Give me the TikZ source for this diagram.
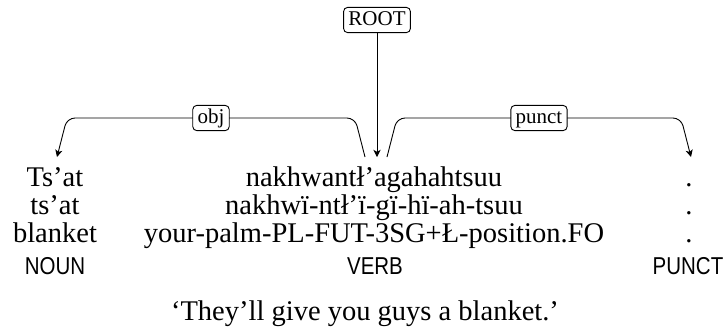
\documentclass[tikz,border=0pt]{standalone}
\usepackage{fontspec}
\setmainfont{Liberation Serif}
\setsansfont[FakeStretch=0.84]{Liberation Sans}
\usetikzlibrary{arrows.meta}

\tikzset{
  word/.style={font=\fontsize{14.25}{16}\selectfont, anchor=base, inner sep=0pt},
  postag/.style={font=\sffamily\fontsize{12.2}{14}\selectfont, anchor=base, inner sep=0pt},
  deplabel/.style={draw, fill=white, line width=0.45pt, rounded corners=2pt,
    font=\fontsize{10.5}{12}\selectfont, inner xsep=2.4pt, inner ysep=1.5pt,
    text height=7.3pt, text depth=2.3pt},
  deparc/.style={line width=0.45pt, rounded corners=4pt,
    -{Stealth[length=3.6pt,width=3.6pt,inset=1pt]}},
}

\begin{document}
\begin{tikzpicture}[x=0.5pt,y=-0.5pt]
\useasboundingbox (0,0) rectangle (724,334);

% word columns: form, segmentation, gloss, part of speech
\node[word]   (w1a) at (55,186)  {Ts’at};
\node[word]   (w1b) at (55,214)  {ts’at};
\node[word]   (w1c) at (55,242)  {blanket};
\node[postag] (w1d) at (55,274)  {NOUN};

\node[word]   (w2a) at (374,186) {nakhwantł’agahahtsuu};
\node[word]   (w2b) at (374,214) {nakhwï-ntł’ï-gï-hï-ah-tsuu};
\node[word]   (w2c) at (374,242) {your-palm-PL-FUT-3SG+Ł-position.FO};
\node[postag] (w2d) at (375,274) {VERB};

\node[word]   (w3a) at (689,186) {.};
\node[word]   (w3b) at (689,214) {.};
\node[word]   (w3c) at (689,242) {.};
\node[postag] (w3d) at (688,274) {PUNCT};

% free translation
\node[word] (tr) at (365,320) {‘They’ll give you guys a blanket.’};

% arc end points above the words
\coordinate (hroot)  at (376,157);
\coordinate (hobj)   at (365,157);
\coordinate (dobj)   at (57,157);
\coordinate (hpunct) at (387,157);
\coordinate (dpunct) at (691,157);

% label positions
\coordinate (objmid)   at (211,118);
\coordinate (punctmid) at (539,118);
\coordinate (rootpos)  at (377,20);

% dependency arcs
\draw[deparc] (hobj) -- ([xshift=-5pt]hobj |- objmid)
  -- ([xshift=5pt]dobj |- objmid) -- (dobj);
\draw[deparc] (hpunct) -- ([xshift=5pt]hpunct |- punctmid)
  -- ([xshift=-5pt]dpunct |- punctmid) -- (dpunct);

\node[deplabel] (obj)   at (objmid)   {obj};
\node[deplabel] (punct) at (punctmid) {punct};
\node[deplabel] (root)  at (rootpos)  {ROOT};

\draw[deparc] (root) -- (root |- hroot);
\end{tikzpicture}
\end{document}
